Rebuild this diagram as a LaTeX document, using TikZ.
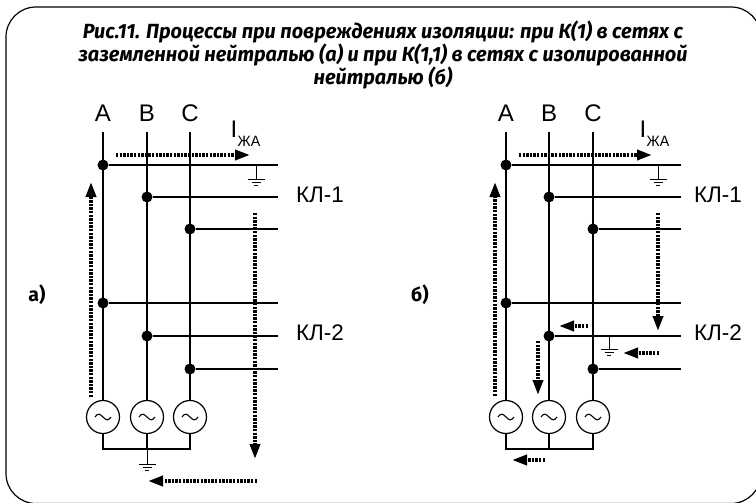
\documentclass[tikz,border=0pt]{standalone}
\usepackage{fontspec}
\setmainfont{Liberation Sans}
\newfontfamily\titlefont{Fira Sans}
\usetikzlibrary{arrows.meta}
\tikzset{
  phase/.style={line width=2pt},
  feeder/.style={line width=2pt},
  thin wire/.style={line width=1pt},
  dot/.style={circle,fill=black,draw=none,inner sep=0pt,minimum size=11pt},
  gen/.style={circle,draw=black,line width=1.2pt,fill=white,inner sep=0pt,minimum size=33pt},
  lbl/.style={font=\fontsize{22.5}{22.5}\selectfont,inner sep=0pt},
  phlbl/.style={font=\fontsize{24}{24}\selectfont,inner sep=0pt},
  side/.style={font=\titlefont\bfseries\fontsize{19.5}{19.5}\selectfont,inner sep=0pt},
  flow/.style={line width=3.6pt,dash pattern=on 2.4pt off 1.2pt,-{Triangle[length=15pt,width=10pt]}},
}
\newcommand{\wave}[1]{\draw[line width=1.1pt] ([xshift=-8pt]#1.center) .. controls ([xshift=-5pt,yshift=4.5pt]#1.center) and ([xshift=-3pt,yshift=3pt]#1.center) .. (#1.center) .. controls ([xshift=3pt,yshift=-3pt]#1.center) and ([xshift=5pt,yshift=-4.5pt]#1.center) .. ([xshift=8pt]#1.center);}
\newcommand{\grnd}[1]{%
  \coordinate (#1a) at ([yshift=-14pt]#1);
  \draw[thin wire] (#1) -- (#1a);
  \draw[thin wire] ([xshift=-8.5pt]#1a) -- ([xshift=8.5pt]#1a);
  \draw[thin wire] ([xshift=-4.5pt,yshift=-3.5pt]#1a) -- ([xshift=4.5pt,yshift=-3.5pt]#1a);
  \draw[thin wire] ([xshift=-2pt,yshift=-6.5pt]#1a) -- ([xshift=2pt,yshift=-6.5pt]#1a);
}
\newcommand{\grid}[5]{% prefix, xA, xB, xC, xEnd
  \foreach \ph/\xx in {A/#2,B/#3,C/#4}{
    \node[phlbl] (#1t\ph) at (\xx,113) {\ph};
    \coordinate (#1top\ph) at (\xx,132);
    \node[gen] (#1g\ph) at (\xx,417) {};
    \coordinate (#1bus\ph) at (\xx,449);
    \draw[phase] (#1top\ph) -- (#1g\ph);
    \wave{#1g\ph}
  }
  \draw[phase,line cap=rect] (#1gA) -- (#1busA) -- (#1busC) -- (#1gC);
  \draw[phase] (#1gB) -- (#1busB);
  \foreach \nm/\xx/\yy in {a/#2/165,b/#3/197,c/#4/229,d/#2/303,e/#3/336,f/#4/369}{
    \node[dot] (#1n\nm) at (\xx,\yy) {};
    \coordinate (#1r\nm) at (#5,\yy);
    \draw[feeder] (#1n\nm) -- (#1r\nm);
  }
}
\begin{document}
\begin{tikzpicture}[x=1pt,y=-1pt]
\useasboundingbox (0,0) rectangle (756,503);
\draw[line width=1.2pt,rounded corners=30pt] (6,7) rectangle (761,503.5);
\node[align=center,inner sep=0pt,xscale=0.97,font=\titlefont\bfseries\itshape\fontsize{20.5}{23}\selectfont] (title) at (383,55)
  {Рис.11. Процессы при повреждениях изоляции: при К(1) в сетях с\\заземленной нейтралью (а) и при К(1,1) в сетях с изолированной\\нейтралью (б)};
\grid{L}{103}{147}{190}{278}
\grid{R}{506}{549}{593}{681}
% labels
\node[lbl] (k1l) at (320,195) {КЛ-1};
\node[lbl] (k2l) at (320,333) {КЛ-2};
\node[lbl] (k1r) at (718,195) {КЛ-1};
\node[lbl] (k2r) at (718,333) {КЛ-2};
\node[side] (al) at (37,295) {а)};
\node[side] (ar) at (420,295) {б)};
\node[phlbl] (il) at (234,129) {I};
\node[inner sep=0pt,xscale=0.95,font=\fontsize{15}{15}\selectfont] (zl) at (249,141) {ЖА};
\node[phlbl] (ir) at (643,129) {I};
\node[inner sep=0pt,xscale=0.95,font=\fontsize{15}{15}\selectfont] (zr) at (658,141) {ЖА};
% grounds
\coordinate (g1) at (256,165); \grnd{g1}
\coordinate (g2) at (147,450); \grnd{g2}
\coordinate (g3) at (658,165); \grnd{g3}
\coordinate (g4) at (609,335); \grnd{g4}
% flows left
\coordinate (f1a) at (116,155); \coordinate (f1b) at (250,155);
\coordinate (f2a) at (91,397);  \coordinate (f2b) at (91,182);
\coordinate (f3a) at (255,213); \coordinate (f3b) at (255,459);
\coordinate (f4a) at (257,481); \coordinate (f4b) at (148,481);
\foreach \p in {1,2,3,4} \draw[flow] (f\p a) -- (f\p b);
% flows right
\coordinate (h1a) at (519,155); \coordinate (h1b) at (652,155);
\coordinate (h2a) at (495,396); \coordinate (h2b) at (495,182);
\coordinate (h3a) at (658,213); \coordinate (h3b) at (658,331);
\coordinate (h4a) at (588,326); \coordinate (h4b) at (559,326);
\coordinate (h5a) at (659,353); \coordinate (h5b) at (623,353);
\coordinate (h6a) at (538,341); \coordinate (h6b) at (538,395);
\coordinate (h7a) at (545,460); \coordinate (h7b) at (512,460);
\foreach \p in {1,2,3,4,5,6,7} \draw[flow] (h\p a) -- (h\p b);
\end{tikzpicture}
\end{document}
